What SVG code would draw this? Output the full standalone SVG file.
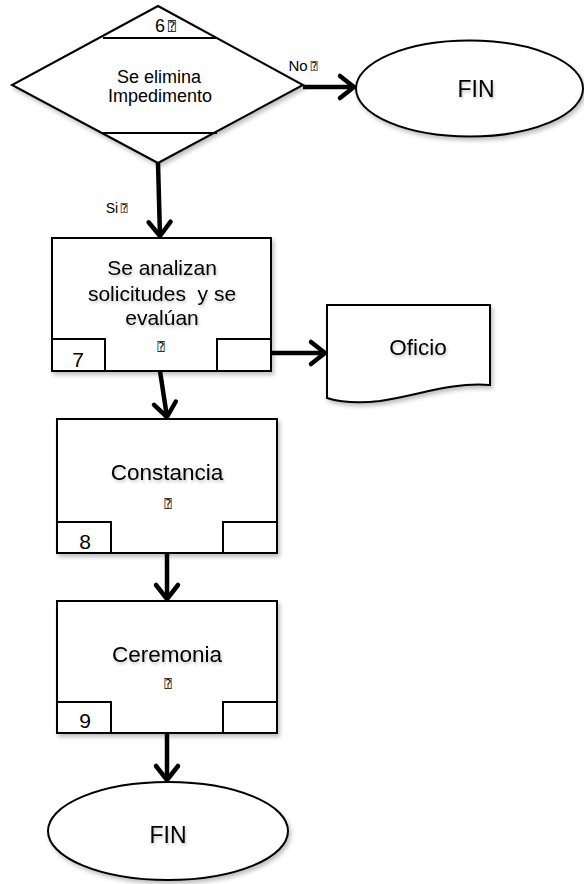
<svg xmlns="http://www.w3.org/2000/svg" width="584" height="884" viewBox="0 0 584 884">
<style>
.shape{fill:#fff;stroke:#000;stroke-width:2}
.sep{stroke:#000;stroke-width:2;fill:none}
.t{font-family:"Liberation Sans",Arial,sans-serif;fill:#000;text-anchor:middle}
.q{font-family:"DejaVu Sans Mono","DejaVu Sans",monospace;fill:#000;text-anchor:middle}
.conn{stroke:#000;stroke-width:4.5;fill:none}
</style>
<defs>
<filter id="sh" x="-10%" y="-10%" width="130%" height="130%">
<feDropShadow dx="2" dy="3" stdDeviation="2" flood-color="#000" flood-opacity="0.25"/>
</filter>
<filter id="tsh" x="-10%" y="-20%" width="130%" height="160%">
<feDropShadow dx="1" dy="2" stdDeviation="1.5" flood-color="#000" flood-opacity="0.25"/>
</filter>
<marker id="arr" markerUnits="userSpaceOnUse" markerWidth="30" markerHeight="30" viewBox="0 0 30 30" refX="26" refY="15" orient="auto">
<path d="M12,4 L26,15 L12,26" fill="none" stroke="#000" stroke-width="4.5" stroke-linecap="round" stroke-linejoin="round"/>
</marker>
</defs>
<g id="connectors">
<line class="conn" x1="303" y1="87" x2="354" y2="87" marker-end="url(#arr)"/>
<line class="conn" x1="158" y1="163" x2="160" y2="236" marker-end="url(#arr)"/>
<line class="conn" x1="271" y1="353" x2="325" y2="353" marker-end="url(#arr)"/>
<line class="conn" x1="160" y1="371" x2="167" y2="417" marker-end="url(#arr)"/>
<line class="conn" x1="167" y1="553" x2="167" y2="599" marker-end="url(#arr)"/>
<line class="conn" x1="167" y1="733" x2="167" y2="780" marker-end="url(#arr)"/>
<text class="t" x="298" y="71" font-size="15">No</text>
<text class="q" x="314" y="70" font-size="11">⍰</text>
<text class="t" x="112" y="213" font-size="14">Si</text>
<text class="q" x="124" y="212" font-size="11">⍰</text>
</g>
<g id="n6">
<polygon class="shape" filter="url(#sh)" points="158,6 303,85 158,163 12,85"/>
<line class="sep" x1="103" y1="38" x2="216" y2="38"/>
<line class="sep" x1="102" y1="133" x2="217" y2="133"/>
<text class="t" x="160" y="32" font-size="18">6</text>
<text class="q" x="172" y="31" font-size="13">⍰</text>
<text class="t" x="159" y="83" font-size="18">Se elimina</text>
<text class="t" x="160" y="102" font-size="18">Impedimento</text>
</g>
<g id="fin1">
<ellipse class="shape" filter="url(#sh)" cx="469.5" cy="88.5" rx="113.5" ry="48"/>
<text class="t" filter="url(#tsh)" x="476" y="97" font-size="23">FIN</text>
</g>
<g id="n7">
<rect class="shape" filter="url(#sh)" x="52" y="238" width="219" height="133"/>
<rect class="shape" x="52" y="339" width="53" height="32"/>
<rect class="shape" x="217" y="339" width="54" height="32"/>
<g filter="url(#tsh)">
<text class="t" x="162" y="275" font-size="21">Se analizan</text>
<text class="t" x="162" y="301" font-size="21" xml:space="preserve">solicitudes  y se</text>
<text class="t" x="162" y="325" font-size="21">evalúan</text>
</g>
<text class="q" x="161" y="351" font-size="12">⍰</text>
<text class="t" x="78" y="367" font-size="21">7</text>
</g>
<g id="oficio">
<path class="shape" filter="url(#sh)" d="M327,305 L490,305 L490,385 C450,382 420,395 380,401 C355,404 340,402 327,398 Z"/>
<text class="t" filter="url(#tsh)" x="418" y="355" font-size="22.5">Oficio</text>
</g>
<g id="n8">
<rect class="shape" filter="url(#sh)" x="57" y="419" width="220" height="134"/>
<rect class="shape" x="57" y="522" width="54" height="31"/>
<rect class="shape" x="223" y="522" width="54" height="31"/>
<text class="t" filter="url(#tsh)" x="167" y="480" font-size="22.5">Constancia</text>
<text class="q" x="168" y="508" font-size="12">⍰</text>
<text class="t" x="85" y="549" font-size="21">8</text>
</g>
<g id="n9">
<rect class="shape" filter="url(#sh)" x="57" y="601" width="220" height="132"/>
<rect class="shape" x="57" y="702" width="54" height="31"/>
<rect class="shape" x="223" y="702" width="54" height="31"/>
<text class="t" filter="url(#tsh)" x="167" y="662" font-size="22.5">Ceremonia</text>
<text class="q" x="168" y="688" font-size="12">⍰</text>
<text class="t" x="85" y="728" font-size="21">9</text>
</g>
<g id="fin2">
<ellipse class="shape" filter="url(#sh)" cx="168" cy="831" rx="120" ry="49"/>
<text class="t" filter="url(#tsh)" x="168" y="843" font-size="23">FIN</text>
</g>
</svg>
